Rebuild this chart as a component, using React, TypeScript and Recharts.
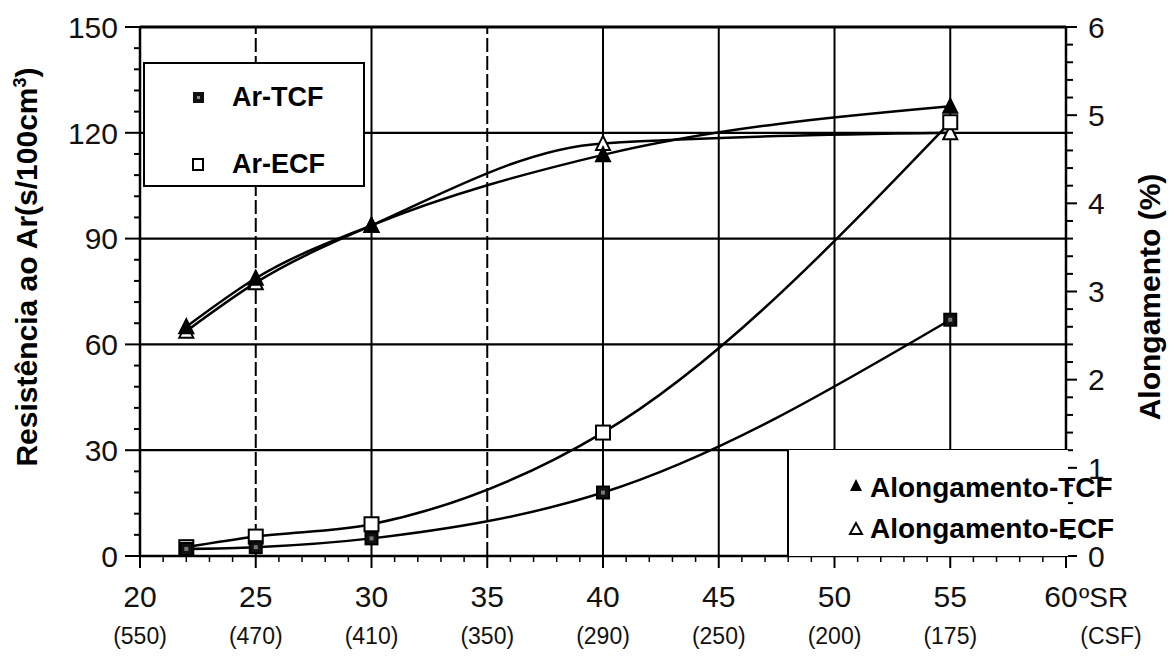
import React from 'react';
import { ComposedChart, Line, XAxis, YAxis, ReferenceLine } from 'recharts';

// ºSR values of the samples
const srValues = [22, 25, 30, 40, 55];
// air resistance, s/100cm3 (left axis)
const arTCF = [2, 2.5, 5, 18, 67];
const arECF = [2.5, 5.5, 9, 35, 123];
// elongation, % (right axis)
const alongTCF = [2.6, 3.15, 3.75, 4.55, 5.1];
const alongECF = [2.55, 3.1, 3.75, 4.68, 4.8];

const xMajor = [20, 25, 30, 35, 40, 45, 50, 55, 60];
const csfLabels = ['(550)', '(470)', '(410)', '(350)', '(290)', '(250)', '(200)', '(175)', '(CSF)'];
const leftMajor = [0, 30, 60, 90, 120, 150];
const rightMajor = [0, 1, 2, 3, 4, 5, 6];
const dashedX = [25, 35];
const solidX = [30, 40, 45, 50, 55];

const xTicks = Array.from({ length: 41 }, (_, i) => 20 + i);
const leftTicks = Array.from({ length: 26 }, (_, i) => i * 6);
const rightTicks = Array.from({ length: 31 }, (_, i) => Math.round(i * 2) / 10);

const data = srValues.map((sr, i) => ({
  sr,
  arTCF: arTCF[i],
  arECF: arECF[i],
  alongTCF: alongTCF[i],
  alongECF: alongECF[i],
}));

const FONT = '"Liberation Sans", Arial, sans-serif';

function XTick(props: any) {
  const { x, y, payload } = props;
  const v = payload.value;
  const i = xMajor.indexOf(v);
  if (i < 0) {
    return <line x1={x} x2={x} y1={y} y2={y + 6} stroke="#000" strokeWidth={1.5} />;
  }
  const last = v === 60;
  return (
    <g>
      <line x1={x} x2={x} y1={y} y2={y + 12} stroke="#000" strokeWidth={2} />
      <text x={last ? x - 5 : x} y={y + 51} textAnchor="middle" fontSize={30} fill="#111" fontFamily={FONT}>
        {v}
      </text>
      {last && (
        <text x={x + 13} y={y + 51} fontSize={28} fill="#111" fontFamily={FONT}>
          ºSR
        </text>
      )}
      <text x={last ? x + 45 : x} y={y + 88} textAnchor="middle" fontSize={23} fill="#111" fontFamily={FONT}>
        {csfLabels[i]}
      </text>
    </g>
  );
}

function LeftTick(props: any) {
  const { x, y, payload } = props;
  const major = leftMajor.includes(payload.value);
  return (
    <g>
      <line x1={x} x2={x - (major ? 15 : 6)} y1={y} y2={y} stroke="#000" strokeWidth={2} />
      {major && (
        <text x={x - 22} y={y} dy="0.36em" textAnchor="end" fontSize={30} fill="#111" fontFamily={FONT}>
          {payload.value}
        </text>
      )}
    </g>
  );
}

function RightTick(props: any) {
  const { x, y, payload } = props;
  const major = rightMajor.includes(payload.value);
  return (
    <g>
      <line x1={x} x2={x + (major ? 11 : 7)} y1={y} y2={y} stroke="#000" strokeWidth={2} />
      {major && (
        <text x={x + 22} y={y} dy="0.36em" textAnchor="start" fontSize={30} fill="#111" fontFamily={FONT}>
          {payload.value}
        </text>
      )}
    </g>
  );
}

function SquareDot(props: any) {
  const { cx, cy, filled } = props;
  if (cx == null || cy == null) return null;
  const s = filled ? 12 : 14;
  return (
    <g>
      <rect x={cx - s / 2} y={cy - s / 2} width={s} height={s} fill={filled ? '#111' : '#fff'} stroke="#000" strokeWidth={2} />
      {filled && <rect x={cx - 2} y={cy - 2} width={4} height={4} fill="#777" />}
    </g>
  );
}

function TriangleDot(props: any) {
  const { cx, cy, filled } = props;
  if (cx == null || cy == null) return null;
  const h = 13;
  const w = 14;
  return (
    <polygon
      points={`${cx},${cy - h / 2 - 1} ${cx - w / 2},${cy + h / 2} ${cx + w / 2},${cy + h / 2}`}
      fill={filled ? '#000' : '#fff'}
      stroke="#000"
      strokeWidth={2}
    />
  );
}

const legendText: React.CSSProperties = {
  position: 'absolute',
  fontWeight: 'bold',
  fontSize: 27,
  lineHeight: '30px',
  whiteSpace: 'nowrap',
  color: '#000',
};

export default function App() {
  return (
    <div style={{ position: 'absolute', left: 0, top: 0, width: 1175, height: 656, background: '#fff', fontFamily: FONT }}>
      <ComposedChart width={1175} height={656} data={data} margin={{ top: 27, right: 0, bottom: 0, left: 0 }}>
        <XAxis
          dataKey="sr"
          type="number"
          domain={[20, 60]}
          ticks={xTicks}
          interval={0}
          height={100}
          tickLine={false}
          tickSize={0}
          tickMargin={0}
          tick={<XTick />}
          axisLine={{ stroke: '#000', strokeWidth: 2.5 }}
        />
        <YAxis
          yAxisId="left"
          domain={[0, 150]}
          ticks={leftTicks}
          interval={0}
          width={140}
          tickLine={false}
          tickSize={0}
          tickMargin={0}
          tick={<LeftTick />}
          axisLine={{ stroke: '#000', strokeWidth: 2.5 }}
        />
        <YAxis
          yAxisId="right"
          orientation="right"
          domain={[0, 6]}
          ticks={rightTicks}
          interval={0}
          width={109}
          tickLine={false}
          tickSize={0}
          tickMargin={0}
          tick={<RightTick />}
          axisLine={{ stroke: '#000', strokeWidth: 2.5 }}
        />
        {leftMajor.slice(1).map((v) => (
          <ReferenceLine key={`h${v}`} yAxisId="left" y={v} stroke="#000" strokeWidth={v === 150 ? 3 : 2.2} />
        ))}
        {solidX.map((v) => (
          <ReferenceLine key={`vs${v}`} yAxisId="left" x={v} stroke="#000" strokeWidth={2} />
        ))}
        {dashedX.map((v) => (
          <ReferenceLine key={`vd${v}`} yAxisId="left" x={v} stroke="#000" strokeWidth={2} strokeDasharray="14 4" />
        ))}
        <Line
          yAxisId="right"
          dataKey="alongECF"
          type="monotone"
          stroke="#000"
          strokeWidth={2.5}
          dot={(p: any) => <TriangleDot key={`ae${p.index}`} {...p} filled={false} />}
          isAnimationActive={false}
        />
        <Line
          yAxisId="right"
          dataKey="alongTCF"
          type="monotone"
          stroke="#000"
          strokeWidth={2.5}
          dot={(p: any) => <TriangleDot key={`at${p.index}`} {...p} filled />}
          isAnimationActive={false}
        />
        <Line
          yAxisId="left"
          dataKey="arECF"
          type="monotone"
          stroke="#000"
          strokeWidth={2.5}
          dot={(p: any) => <SquareDot key={`re${p.index}`} {...p} filled={false} />}
          isAnimationActive={false}
        />
        <Line
          yAxisId="left"
          dataKey="arTCF"
          type="monotone"
          stroke="#000"
          strokeWidth={2.5}
          dot={(p: any) => <SquareDot key={`rt${p.index}`} {...p} filled />}
          isAnimationActive={false}
        />
      </ComposedChart>

      {/* legend, air resistance */}
      <div
        style={{
          position: 'absolute',
          left: 143,
          top: 62,
          width: 218,
          height: 121,
          border: '2.5px solid #000',
          background: '#fff',
        }}
      >
        <svg style={{ position: 'absolute', left: 46, top: 26 }} width={16} height={16}>
          <rect x={2} y={2} width={11} height={11} fill="#111" />
          <rect x={6} y={6} width={3} height={3} fill="#888" />
        </svg>
        <span style={{ ...legendText, left: 87, top: 18 }}>Ar-TCF</span>
        <svg style={{ position: 'absolute', left: 46, top: 93 }} width={16} height={16}>
          <rect x={2} y={2} width={10} height={11} fill="#fff" stroke="#000" strokeWidth={2} />
        </svg>
        <span style={{ ...legendText, left: 87, top: 85 }}>Ar-ECF</span>
      </div>

      {/* legend, elongation */}
      <div
        style={{
          position: 'absolute',
          left: 787,
          top: 450,
          width: 279,
          height: 106,
          borderLeft: '2.5px solid #000',
          background: '#fff',
        }}
      >
        <svg style={{ position: 'absolute', left: 59, top: 27 }} width={16} height={16}>
          <polygon points="8,2 2,14 14,14" fill="#000" />
        </svg>
        <span style={{ ...legendText, fontSize: 28, left: 81, top: 23 }}>Alongamento-TCF</span>
        <svg style={{ position: 'absolute', left: 59, top: 70 }} width={16} height={16}>
          <polygon points="8,3 2,14 14,14" fill="#fff" stroke="#000" strokeWidth={2} />
        </svg>
        <span style={{ ...legendText, fontSize: 28, left: 81, top: 64 }}>Alongamento-ECF</span>
      </div>

      {/* axis titles */}
      <div
        style={{
          position: 'absolute',
          left: 27,
          top: 267,
          transform: 'translate(-50%, -50%) rotate(-90deg)',
          fontWeight: 'bold',
          fontSize: 30,
          whiteSpace: 'nowrap',
          color: '#000',
        }}
      >
        Resistência ao Ar(s/100cm<sup style={{ fontSize: 18 }}>3</sup>)
      </div>
      <div
        style={{
          position: 'absolute',
          left: 1150,
          top: 297,
          transform: 'translate(-50%, -50%) rotate(-90deg)',
          fontWeight: 'bold',
          fontSize: 30,
          whiteSpace: 'nowrap',
          color: '#000',
        }}
      >
        Alongamento (%)
      </div>
    </div>
  );
}
